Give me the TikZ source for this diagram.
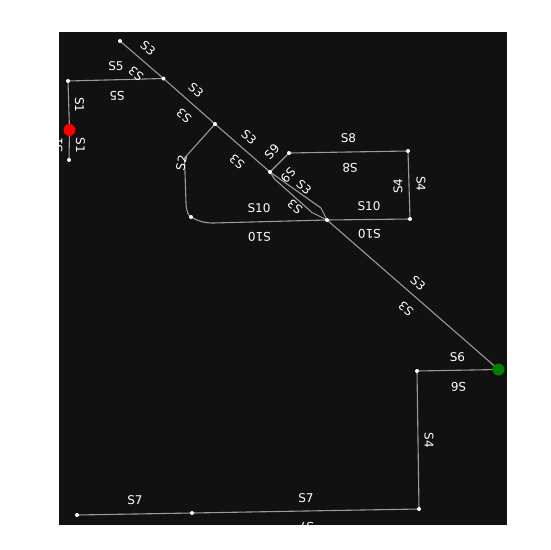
\documentclass[tikz,border=0pt]{standalone}
\usepackage{fontspec}
\setmainfont{DejaVu Sans}
\definecolor{panel}{HTML}{111111}
\definecolor{edgecol}{HTML}{9A9A9A}
\definecolor{okgreen}{HTML}{008000}
\tikzset{
  vertex/.style={circle,fill=white,inner sep=0pt,minimum size=4pt},
  redv/.style={circle,fill=red,inner sep=0pt,minimum size=12pt},
  greenv/.style={circle,fill=okgreen,inner sep=0pt,minimum size=12pt},
  edge/.style={draw=edgecol,line width=1.1pt},
  lab/.style={text=white,font=\fontsize{12}{14}\selectfont,inner sep=0pt}
}
\begin{document}
\begin{tikzpicture}[x=1pt,y=-1pt]
\useasboundingbox (0,0) rectangle (550,550);
\fill[white] (0,0) rectangle (550,550);
\fill[panel] (59,32) rectangle (507,525);
\begin{scope}
\clip (59,32) rectangle (507,525);
\coordinate (a) at (120,41);
\coordinate (b) at (163.5,78.5);
\coordinate (c) at (215,124);
\coordinate (d) at (270,172);
\coordinate (e) at (327,220);
\coordinate (g) at (498.5,369.5);
\coordinate (f) at (68,81);
\coordinate (r) at (69.5,130);
\coordinate (h) at (69,160);
\coordinate (i) at (191,217);
\coordinate (j) at (410,219);
\coordinate (k) at (289,153);
\coordinate (l) at (408,151);
\coordinate (m) at (417,371);
\coordinate (n) at (419,509);
\coordinate (o) at (192,513);
\coordinate (p) at (77,515);
\draw[edge] (a) -- (b) -- (c) -- (d) -- (321,208) -- (e) -- (g);
\draw[edge] (f) -- (b);
\draw[edge] (f) -- (r) -- (h);
\draw[edge] (c) -- (184.5,158) -- (186,203) .. controls (186.5,212) and (188,215) .. (i);
\draw[edge] (i) .. controls (198,221) and (204,223) .. (213,223) -- (e) -- (j);
\draw[edge] (d) -- (k) -- (l) -- (j);
\draw[edge] (d) -- (274.5,179) -- (312,212.5) -- (e);
\draw[edge] (m) -- (g);
\draw[edge] (m) -- (n) -- (o) -- (p);
\node[vertex] (va) at (a) {};
\node[vertex] (vb) at (b) {};
\node[vertex] (vc) at (c) {};
\node[vertex] (vd) at (d) {};
\node[vertex] (ve) at (e) {};
\node[vertex] (vf) at (f) {};
\node[vertex] (vh) at (h) {};
\node[vertex] (vi) at (i) {};
\node[vertex] (vj) at (j) {};
\node[vertex] (vk) at (k) {};
\node[vertex] (vl) at (l) {};
\node[vertex] (vm) at (m) {};
\node[vertex] (vn) at (n) {};
\node[vertex] (vo) at (o) {};
\node[vertex] (vp) at (p) {};
\node[redv] (vr) at (r) {};
\node[greenv] (vg) at (g) {};
\foreach \nm/\x/\y/\t/\rr in {
 l1/148/48/S3/-41, l2/136/74/S3/139, l3/196/90/S3/-41, l4/184/116/S3/139,
 l5/249/137/S3/-41, l6/237/162/S3/139, l7/304/187/S3/-41, l8/295/207/S3/139,
 l9/418/283/S3/-41, l10/406/309/S3/139,
 l11/116/66/S5/0, l12/117/96/S5/180,
 l13/79.5/105/S1/-90, l14/80.5/145/S1/-90, l15/58/145/S1/90,
 l16/181.5/163/S2/80,
 l17/272/152/S9/47, l18/288/175/S9/227,
 l19/348.5/138/S8/0, l20/350/168/S8/180,
 l21/398/186/S4/90, l22/421/184/S4/-90, l23/429/440/S4/-90,
 l24/259/208/S10/0, l25/259.5/237/S10/180, l26/369/206/S10/0, l27/369.5/234/S10/180,
 l28/457.5/357/S6/0, l29/458.5/387/S6/180,
 l30/135/500/S7/0, l31/306/498/S7/0, l32/306.5/527/S7/180}
  {\node[lab,rotate=\rr] (\nm) at (\x,\y) {\t};}
\end{scope}
\end{tikzpicture}
\end{document}
